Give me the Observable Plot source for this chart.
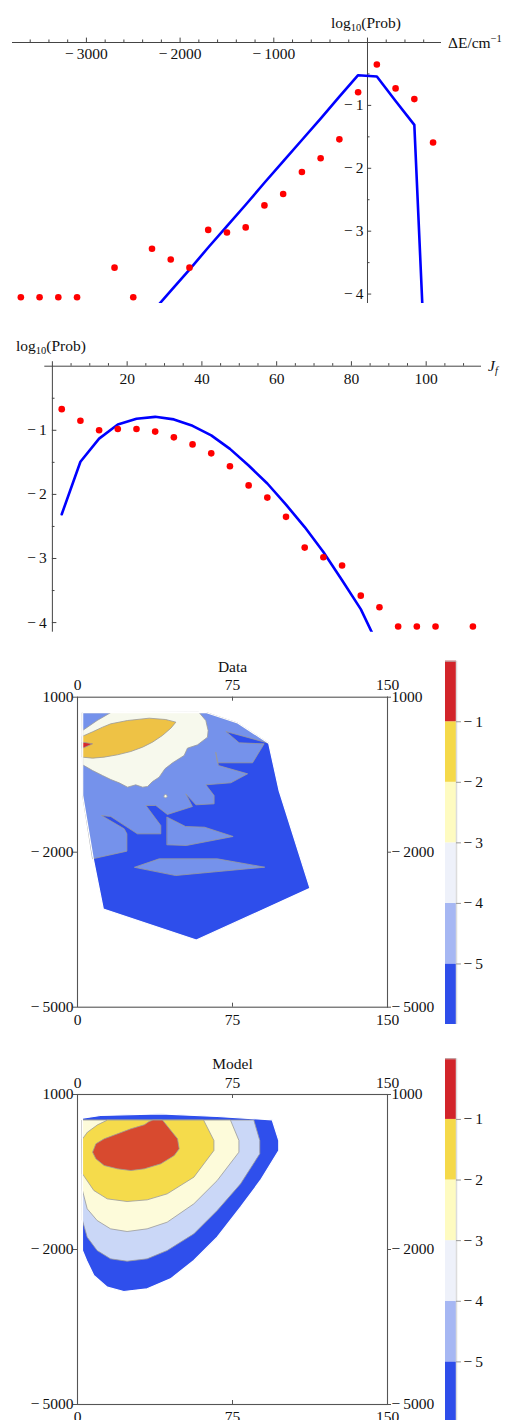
<!DOCTYPE html>
<html><head><meta charset="utf-8">
<script src="https://cdn.jsdelivr.net/npm/d3@7"></script>
<script src="https://cdn.jsdelivr.net/npm/@observablehq/plot@0.6"></script>
<style>
html,body{margin:0;padding:0;background:#fff;}
body{width:506px;height:1420px;overflow:hidden;}
#root{position:relative;width:506px;height:1420px;overflow:hidden;}
.p{position:absolute;}
.p svg{display:block;font-family:"Liberation Serif",serif !important;}
.p svg text{font-family:"Liberation Serif",serif;}
.lbl{position:absolute;font-family:"Liberation Serif",serif;font-size:15.5px;line-height:15px;color:#111;white-space:nowrap;}
.lbl sub{font-size:10.5px;vertical-align:-3px;line-height:0;}
.lbl sup{font-size:10.5px;vertical-align:6px;line-height:0;}
</style></head><body><div id="root"></div>
<script>
// ---------- Panel 1: energy-transfer distribution ----------
const dE = [-3700,-3500,-3300,-3100,-2700,-2500,-2300,-2100,-1900,-1700,-1500,-1300,-1100,-900,-700,-500,-300,-100,100,300,500,700];
const dEProb = [-4.05,-4.05,-4.05,-4.05,-3.58,-4.05,-3.28,-3.45,-3.58,-2.98,-3.02,-2.94,-2.59,-2.41,-2.06,-1.84,-1.54,-0.79,-0.35,-0.73,-0.90,-1.59];
const dEModel = [-2500,-2300,-2100,-1900,-1700,-1500,-1300,-1100,-900,-700,-500,-300,-100,100,300,500,700];
const dEModelProb = [-4.64,-4.29,-3.95,-3.61,-3.26,-2.92,-2.58,-2.23,-1.89,-1.55,-1.21,-0.86,-0.52,-0.54,-0.93,-1.31,-8.0];
const dETicksMajor = [-3000,-2000,-1000];
const dETicksMinor = [-3600,-3400,-3200,-2800,-2600,-2400,-2200,-1800,-1600,-1400,-1200,-800,-600,-400,-200,200,400,600];
const probTicksMajor = [-1,-2,-3,-4];
const probTicksMinor = [-0.5,-1.5,-2.5,-3.5];

// ---------- Panel 2: rotational distribution ----------
const jf = [2.5,7.5,12.5,17.5,22.5,27.5,32.5,37.5,42.5,47.5,52.5,57.5,62.5,67.5,72.5,77.5,82.5,87.5,92.5,97.5,102.5,112.5];
const jfProb = [-0.67,-0.85,-1.0,-0.98,-0.98,-1.02,-1.11,-1.22,-1.36,-1.56,-1.86,-2.05,-2.35,-2.83,-2.98,-3.11,-3.58,-3.76,-4.06,-4.06,-4.06,-4.06];
const jfModel = [2.5,7.5,12.5,17.5,22.5,27.5,32.5,37.5,42.5,47.5,52.5,57.5,62.5,67.5,72.5,77.5,82.5,87.5];
const jfModelProb = [-2.31,-1.49,-1.13,-0.91,-0.82,-0.79,-0.83,-0.93,-1.08,-1.29,-1.55,-1.83,-2.16,-2.51,-2.90,-3.34,-3.79,-4.4];
const jfTicksMajor = [20,40,60,80,100];
const jfTicksMinor = [5,10,15,25,30,35,45,50,55,65,70,75,85,90,95,105,110];

// ---------- Contour panels (J, ΔE) ----------
const contourJTicks = [0,75,150];
const contourETicks = [1000,-2000,-5000];
const levelLow = [-6,-5,-4,-3,-2,-1];
const levelColors = ["#2E4DEA","#A6B7F3","#EEF1FA","#FEFBC1","#F5D949","#D2242A"];
const levelTicks = [-1,-2,-3,-4,-5];

// Data contour boundaries [J, ΔE]
const dataHull = [[2.5,700],[62.5,700],[77.5,500],[92.5,110],[97.5,-800],[112.5,-2700],[57.5,-3700],[12.5,-3100],[7.5,-2100],[2.5,-900]];
const dataLevel5 = [[2.5,700],[62.5,700],[77.5,500],[92.5,110],[71.8,336],[78.2,117],[90.3,97],[84.7,-270],[67.7,-270],[66.9,-64],[68.2,-322],[82.3,-483],[74.2,-657],[62.1,-696],[66.1,-903],[66.1,-1064],[57.3,-1083],[52.4,-870],[55.6,-1116],[43.5,-1270],[37.9,-1096],[33.1,-1096],[40.3,-1483],[40.3,-1645],[29.0,-1645],[16.1,-1309],[11.6,-1290],[22.6,-1548],[23.9,-1645],[23.9,-1980],[7.3,-2128],[2.5,-900]];
const dataIsland1 = [[43.4,-1322],[52.3,-1503],[61.5,-1516],[75.3,-1696],[52.7,-1870],[43.4,-1857]];
const dataIsland2 = [[27.7,-2290],[39.5,-2128],[67.7,-2128],[90.6,-2290],[47.6,-2451]];
const dataLevel3 = [[16.0,700],[9.5,549],[2.5,356],[2.5,-309],[7.3,-419],[12.1,-515],[16.1,-593],[20.2,-658],[24.2,-741],[28.2,-696],[31.5,-741],[33.9,-728],[36.3,-632],[39.5,-548],[42.3,-386],[46.0,-270],[51.6,-128],[53.2,14],[58.1,78],[62.9,226],[63.2,356],[62.1,549],[58.9,700]];
const dataLevel2 = [[2.5,246],[7.3,330],[12.1,420],[16.1,485],[24.2,549],[34.7,594],[42.7,568],[47.6,517],[45.2,401],[41.1,259],[36.3,130],[31.5,33],[25.8,-51],[19.4,-115],[12.9,-160],[7.3,-180],[2.5,-161]];
const dataLevel1 = [[2.5,130],[7.3,97],[2.5,14]];
const dataSpot = [[42.6,-915]];

// Model contour boundaries [J, ΔE]
const modelHull = [[2.4,542],[11.1,594],[40.2,626],[67.6,574],[94.2,510],[97.4,110],[97.4,-84],[88.5,-664],[78.9,-1181],[67.6,-1761],[56.3,-2213],[45.0,-2568],[33.7,-2761],[22.4,-2813],[14.4,-2729],[7.9,-2503],[4.4,-2213],[2.4,-2019]];
const modelLevel4 = [[2.4,505],[85.3,505],[88.2,110],[88.2,-148],[78.9,-729],[67.6,-1245],[56.3,-1697],[43.4,-2019],[33.7,-2181],[24.0,-2226],[16.0,-2181],[9.5,-2019],[4.7,-1761],[2.4,-1439]];
const modelLevel3 = [[2.4,505],[74.0,505],[78.1,110],[78.1,-116],[67.6,-665],[56.3,-1116],[43.4,-1471],[33.7,-1600],[24.0,-1652],[16.0,-1600],[9.5,-1439],[4.7,-1213],[2.4,-858]];
const modelLevel2 = [[2.4,140],[4.8,270],[9.7,413],[14.5,505],[61.0,505],[66.0,110],[66.0,-84],[56.3,-600],[43.4,-923],[33.7,-1039],[24.0,-1071],[14.4,-1020],[7.9,-858],[2.4,-536]];
const modelLevel1 = [[34.7,477],[36.5,505],[41.1,505],[48.4,142],[49.2,-52],[46.8,-181],[40.3,-342],[32.3,-439],[25.8,-471],[19.4,-439],[12.9,-374],[8.9,-245],[7.3,-116],[8.9,45],[12.9,142],[19.4,239],[25.8,335],[32.3,413]];

// ---------- helpers ----------
const FONT = "Liberation Serif";
const FS = 15.5;
const fmt = v => v < 0 ? "\u2212\u2009" + Math.abs(v) : String(v);
const root = document.getElementById("root");
function place(node, left, top) {
  const d = document.createElement("div");
  d.className = "p"; d.style.left = left + "px"; d.style.top = top + "px";
  d.appendChild(node); root.appendChild(d);
}
function label(html, left, top) {
  const d = document.createElement("div");
  d.className = "lbl"; d.style.left = left + "px"; d.style.top = top + "px";
  d.innerHTML = html; root.appendChild(d);
}
const style = {fontFamily: FONT, fontSize: FS + "px", background: "transparent", color: "#111"};
const AX = "#444";
const txt = (data, opts) => Plot.text(data, {fontFamily: FONT, fontSize: FS, fill: "#111", ...opts});

// ---------- Panel 1 ----------
const obs1 = dE.map((e, i) => ({e, p: dEProb[i]}));
const mod1 = dEModel.map((e, i) => ({e, p: dEModelProb[i]}));
place(Plot.plot({
  width: 506, height: 310,
  marginTop: 42, marginBottom: 7, marginLeft: 12, marginRight: 65,
  x: {domain: [-3789, 790], axis: null},
  y: {domain: [-4.15, 0], axis: null},
  style,
  marks: [
    Plot.ruleY([0], {stroke: AX, strokeWidth: 1}),
    Plot.ruleX([0], {y1: -4.15, y2: 0.07, stroke: AX, strokeWidth: 1}),
    Plot.ruleX(dETicksMajor, {x: d => d, y1: 0, y2: 0.07, stroke: AX}),
    Plot.ruleX(dETicksMinor, {x: d => d, y1: 0, y2: 0.04, stroke: AX}),
    Plot.ruleY(probTicksMajor, {y: d => d, x1: 0, x2: 45, stroke: AX}),
    Plot.ruleY(probTicksMinor, {y: d => d, x1: 0, x2: 27, stroke: AX}),
    txt(dETicksMajor, {x: d => d, y: 0, text: fmt, dy: 12}),
    txt(probTicksMajor, {x: 0, y: d => d, text: fmt, textAnchor: "end", dx: -4}),
    Plot.line(mod1, {x: "e", y: "p", stroke: "#0000FF", strokeWidth: 2.6, clip: true}),
    Plot.dot(obs1, {x: "e", y: "p", r: 3.3, fill: "#FF0000", stroke: "none"})
  ]
}), 0, 0);
label("log<sub>10</sub>(Prob)", 331, 14.5);
label("\u0394E/cm<sup>\u22121</sup>", 448, 35);

// ---------- Panel 2 ----------
const obs2 = jf.map((j, i) => ({j, p: jfProb[i]}));
const mod2 = jfModel.map((j, i) => ({j, p: jfModelProb[i]}));
place(Plot.plot({
  width: 506, height: 320,
  marginTop: 45.7, marginBottom: 8.3, marginLeft: 44.3, marginRight: 25,
  x: {domain: [-2.03, 114.8], axis: null},
  y: {domain: [-4.15, 0], axis: null},
  style,
  marks: [
    Plot.ruleY([0], {stroke: AX, strokeWidth: 1}),
    Plot.ruleX([0], {y1: -4.15, y2: 0.07, stroke: AX, strokeWidth: 1}),
    Plot.ruleX(jfTicksMajor, {x: d => d, y1: 0, y2: 0.07, stroke: AX}),
    Plot.ruleX(jfTicksMinor, {x: d => d, y1: 0, y2: 0.04, stroke: AX}),
    Plot.ruleY(probTicksMajor, {y: d => d, x1: 0, x2: 1.2, stroke: AX}),
    Plot.ruleY(probTicksMinor, {y: d => d, x1: 0, x2: 0.7, stroke: AX}),
    txt(jfTicksMajor, {x: d => d, y: 0, text: fmt, dy: 12.6}),
    txt(probTicksMajor, {x: 0, y: d => d, text: fmt, textAnchor: "end", dx: -5.6}),
    Plot.line(mod2, {x: "j", y: "p", stroke: "#0000FF", strokeWidth: 2.6, clip: true}),
    Plot.dot(obs2, {x: "j", y: "p", r: 3.3, fill: "#FF0000", stroke: "none"})
  ]
}), 0, 320);
label("log<sub>10</sub>(Prob)", 16, 338);
label("<i>J</i><sub><i>f</i></sub>", 488, 357.5);

// ---------- Contour panels ----------
const poly = (pts, fill, stroke = "#9a9a9a") =>
  Plot.line(pts, {x: p => p[0], y: p => p[1], curve: "linear-closed", fill, stroke, strokeWidth: stroke === "none" ? 0 : 0.8});

function contourPanel(title, height, marginTop, marginBottom, regions, hull, extra = []) {
  const tickE = 4 / 310 * 6000, tickJ = 4 / 310 * 150;
  return Plot.plot({
    width: 506, height,
    marginTop, marginBottom, marginLeft: 77, marginRight: 119,
    x: {domain: [0, 150], axis: null},
    y: {domain: [-5000, 1000], axis: null},
    style,
    marks: [
      ...regions,
      ...extra,
      Plot.line(hull, {x: p => p[0], y: p => p[1], curve: "linear-closed", fill: "none", stroke: "#fff", strokeWidth: 1.2}),
      Plot.frame({stroke: "#555", strokeWidth: 1.1}),
      Plot.ruleX(contourJTicks, {x: d => d, y1: 1000, y2: 1000 - tickE, stroke: "#555"}),
      Plot.ruleX(contourJTicks, {x: d => d, y1: -5000, y2: -5000 + tickE, stroke: "#555"}),
      Plot.ruleY(contourETicks, {y: d => d, x1: -tickJ, x2: 0, stroke: "#555"}),
      Plot.ruleY(contourETicks, {y: d => d, x1: 150, x2: 150 + tickJ, stroke: "#555"}),
      txt(contourJTicks, {x: d => d, y: 1000, text: fmt, dy: -11.7}),
      txt(contourJTicks, {x: d => d, y: -5000, text: fmt, dy: 12.8}),
      txt(contourETicks, {x: 0, y: d => d, text: fmt, textAnchor: "end", dx: -4}),
      txt(contourETicks, {x: 150, y: d => d, text: fmt, textAnchor: "start", dx: 4}),
      txt([title], {frameAnchor: "top", lineAnchor: "middle", text: d => d, dy: -30})
    ]
  });
}

function colorBar(height, marginTop, marginBottom) {
  return Plot.plot({
    width: 76, height, marginTop, marginBottom, marginLeft: 15, marginRight: 50,
    x: {domain: [0, 1], axis: null},
    y: {domain: [-6, 0], axis: null},
    color: {type: "identity"},
    style,
    marks: [
      Plot.rect(levelLow, {x1: 0, x2: 1, y1: d => d, y2: d => d + 1, fill: (d, i) => levelColors[i]}),
      Plot.ruleX([1], {y1: -6, y2: 0, stroke: "#dcdcdc", strokeWidth: 1.5}),
      Plot.ruleY([0], {x1: 0, x2: 1, stroke: "#bbb", strokeWidth: 1}),
      Plot.ruleY(levelTicks, {y: d => d, x1: 1, x2: 1.45, stroke: "#999"}),
      txt(levelTicks, {x: 1, y: d => d, text: fmt, textAnchor: "start", dx: 7})
    ]
  });
}

// Data panel
place(contourPanel("Data", 400, 56.7, 33.3, [
  poly(dataHull, "#2E4EEB", "none"),
  poly(dataLevel5, "#7592EB"),
  poly(dataIsland1, "#7592EB"),
  poly(dataIsland2, "#7592EB"),
  poly(dataLevel3, "#F7F9ED"),
  poly(dataLevel2, "#EEC245"),
  poly(dataLevel1, "#D7262B")
], dataHull, [
  Plot.dot(dataSpot, {x: p => p[0], y: p => p[1], r: 1.6, fill: "#F7F9ED", stroke: "#9a9a9a", strokeWidth: 0.7})
]), 0, 640);
place(colorBar(400, 20.7, 16), 430, 640);

// Model panel
place(contourPanel("Model", 380, 54, 16, [
  poly(modelHull, "#2F4FEC", "none"),
  poly(modelLevel4, "#CAD7F7"),
  poly(modelLevel3, "#FDFBDA"),
  poly(modelLevel2, "#F5DB4B"),
  poly(modelLevel1, "#D84A2F")
], modelHull), 0, 1040);
place(colorBar(382, 18.3, 0), 430, 1040);
</script></body></html>
